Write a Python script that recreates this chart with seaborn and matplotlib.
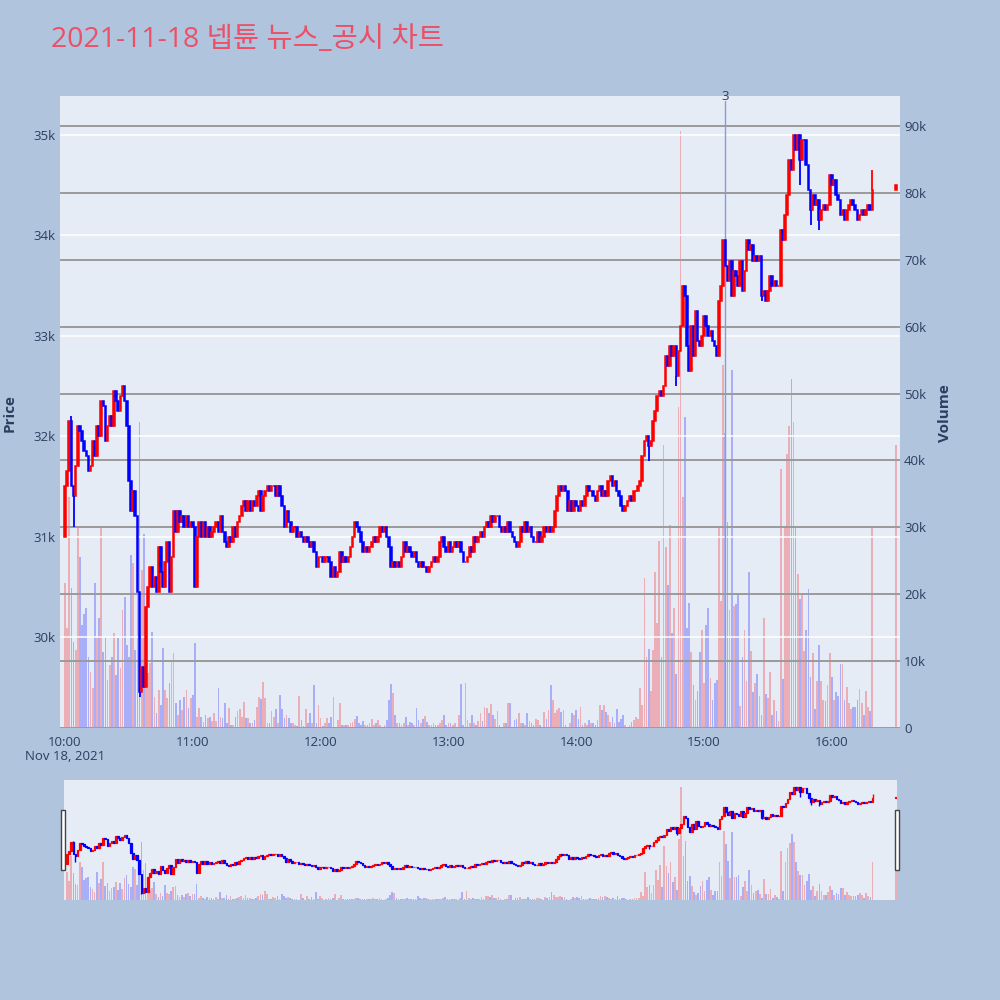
import numpy as np
import pandas as pd
import matplotlib
matplotlib.use("Agg")
import matplotlib.pyplot as plt
import matplotlib.transforms as mtransforms
from matplotlib.patches import Rectangle
import seaborn as sns

# ---------------------------------------------------------------------------
# Data: 1-minute candles, minutes after 10:00 (last point = 16:30 auction)
# ---------------------------------------------------------------------------
minutes = list(range(380)) + [390]
first_open = 31000

close = [
    31500, 31650, 32150, 31500, 31400, 31700, 32100, 32050, 31950, 31850,
    31800, 31650, 31700, 31950, 31800, 32100, 32000, 32350, 32300, 31950,
    32100, 32200, 32100, 32450, 32350, 32250, 32400, 32500, 32350, 32100,
    31550, 31250, 31450, 31200, 30450, 29450, 29700, 29500, 30300, 30500,
    30700, 30500, 30600, 30450, 30900, 30650, 30500, 30750, 30950, 30450,
    30800, 31250, 31050, 31250, 31150, 31200, 31100, 31200, 31100, 31150,
    31100, 30500, 31000, 31150, 31000, 31150, 31000, 31100, 31000, 31050,
    31100, 31150, 31050, 31200, 31050, 30950, 30900, 31000, 30950, 31100,
    31000, 31150, 31200, 31300, 31350, 31250, 31350, 31250, 31350, 31300,
    31400, 31450, 31250, 31400, 31450, 31500, 31450, 31500, 31500, 31400,
    31500, 31400, 31300, 31100, 31250, 31150, 31050, 31100, 31100, 31000,
    31050, 31000, 30950, 31000, 30950, 30900, 30950, 30850, 30700, 30800,
    30800, 30750, 30800, 30800, 30750, 30600, 30700, 30600, 30650, 30850,
    30750, 30800, 30750, 30800, 30900, 31000, 31150, 31100, 31050, 30950,
    30850, 30900, 30850, 30900, 30950, 31000, 30950, 31000, 31100, 31050,
    31100, 31000, 30900, 30700, 30750, 30700, 30750, 30700, 30800, 30950,
    30850, 30900, 30850, 30800, 30850, 30750, 30700, 30750, 30700, 30700,
    30650, 30700, 30750, 30800, 30750, 30800, 30950, 31000, 30900, 30850,
    30950, 30850, 30900, 30950, 30900, 30950, 30850, 30750, 30750, 30800,
    30900, 30850, 31000, 30950, 31000, 31050, 31000, 31100, 31150, 31100,
    31200, 31150, 31200, 31200, 31100, 31050, 31100, 31050, 31150, 31050,
    31000, 30950, 30900, 30950, 31100, 31050, 31150, 31050, 31100, 31000,
    30950, 30950, 31050, 30950, 31000, 31100, 31050, 31100, 31050, 31100,
    31250, 31400, 31500, 31450, 31500, 31450, 31250, 31350, 31250, 31350,
    31300, 31250, 31350, 31300, 31400, 31500, 31450, 31450, 31400, 31350,
    31450, 31500, 31400, 31450, 31400, 31550, 31600, 31500, 31550, 31450,
    31400, 31300, 31250, 31300, 31350, 31400, 31350, 31450, 31450, 31500,
    31550, 31800, 31950, 32000, 31900, 31950, 32150, 32250, 32400, 32450,
    32400, 32500, 32800, 32700, 32900, 32800, 32900, 32600, 32850, 33100,
    33500, 33400, 32900, 32650, 33100, 32800, 33250, 32950, 32900, 33000,
    33200, 33100, 33000, 33050, 32950, 32900, 32800, 33350, 33500, 33950,
    33700, 33550, 33750, 33400, 33650, 33600, 33500, 33750, 33450, 33650,
    33950, 33850, 33900, 33750, 33800, 33750, 33800, 33400, 33450, 33350,
    33450, 33600, 33500, 33550, 33500, 33500, 34050, 33950, 34200, 34400,
    34750, 34650, 35000, 34850, 35000, 34750, 34950, 34950, 34700, 34450,
    34250, 34400, 34300, 34350, 34150, 34250, 34300, 34250, 34300, 34600,
    34500, 34550, 34400, 34350, 34200, 34250, 34150, 34250, 34300, 34350,
    34300, 34250, 34150, 34200, 34250, 34200, 34250, 34300, 34250, 34450,
    34500,
]

# long shadows that stick out of the bodies
wick_low = {4: 31100, 35: 29400, 274: 31750, 287: 32500, 327: 33350,
            345: 34500, 350: 34100, 354: 34050}
wick_high = {3: 32200, 379: 34650}

# volume in thousands of shares
volume_k = [
    21.7, 15.0, 34.5, 21.0, 12.9, 11.7, 30.0, 25.6, 15.4, 17.0,
    18.0, 10.6, 8.4, 6.0, 21.7, 13.6, 16.4, 30.0, 11.4, 13.6,
    7.2, 9.4, 10.6, 14.2, 7.9, 13.5, 9.0, 17.6, 19.6, 12.4,
    10.6, 25.9, 24.7, 11.7, 20.2, 45.7, 23.6, 29.0, 9.7, 8.2,
    9.7, 14.4, 4.6, 2.2, 5.7, 3.5, 12.0, 5.7, 4.5, 6.7,
    9.9, 11.2, 3.7, 2.0, 4.2, 2.7, 4.6, 5.7, 3.0, 4.5,
    5.0, 12.7,
    1.6, 3.0, 1.6, 0.9, 2.0, 1.5, 1.7, 1.0, 2.2, 1.0,
    6.0, 1.7, 1.5, 3.7, 0.7, 3.0, 0.5, 0.5, 1.7, 2.5,
    2.9, 1.7, 3.9, 1.5, 1.5, 0.7, 0.8, 1.2, 3.2, 4.6,
    4.3, 6.9, 4.5, 0.7, 0.7, 2.5, 1.7, 2.9, 0.7, 5.0,
    2.9, 1.5, 2.0, 1.5, 0.7, 0.7, 0.5, 0.3, 4.8, 1.2,
    0.3, 2.9, 0.7, 2.2, 0.7, 6.5, 0.8, 3.4, 1.5, 0.3,
    0.8, 1.5, 0.7,
    1.7, 4.7, 0.2, 1.2, 3.8, 0.4, 0.4, 0.4, 0.4, 0.7,
    0.9, 1.4, 1.8, 0.7, 0.4, 1.0, 0.4, 0.4, 0.7, 1.4,
    0.4, 0.7, 1.2, 0.4, 0.2, 0.4, 1.2, 4.2, 6.6, 5.3,
    1.9, 0.7, 0.7, 0.4, 0.7, 1.7, 0.4, 0.9, 0.7, 0.4,
    3.0, 1.2, 0.7, 1.4, 1.8, 0.9, 0.4, 0.4, 0.7, 0.4,
    0.4, 0.7, 1.2, 2.0, 0.4, 0.7, 0.7, 0.4, 0.7, 0.2,
    1.9, 6.6, 0.4,
    6.7, 1.2, 0.7, 1.9, 0.7, 0.5, 1.0, 2.2, 1.0, 3.2,
    3.0, 2.2, 3.6, 1.9, 1.4, 2.6, 0.5, 0.2, 0.7, 0.7,
    3.7, 3.7, 0.2, 1.2, 1.4, 2.2, 0.7, 0.7, 0.5, 2.2,
    1.0, 0.7, 0.5, 1.4, 1.2, 0.5, 0.2, 2.4, 1.4, 2.7,
    6.4, 4.2, 2.2, 2.7, 3.0, 2.4, 2.7, 0.5, 0.2, 0.7,
    2.2, 1.9, 2.7, 1.4, 3.2, 0.5, 0.7, 0.5, 1.2, 0.7,
    0.7, 0.5, 1.2, 3.4, 2.7,
    3.4, 2.4, 1.9, 0.9, 1.7, 0.7, 2.9, 0.9, 1.4, 1.9,
    0.4, 0.2, 0.4, 0.9, 1.2, 1.7, 1.4, 6.0, 3.4, 22.4,
    10.6, 11.8, 5.5, 11.6, 23.4, 15.7, 27.9, 10.6, 42.3, 27.1,
    21.4, 30.3, 14.2, 17.9, 8.0, 48.0, 89.3, 34.5, 46.5, 15.0,
    18.7, 11.3, 6.5, 4.2, 5.5, 11.3, 14.6, 6.7, 15.4, 17.9,
    7.5, 4.2, 6.7, 7.2, 30.1, 19.0, 54.3, 44.1, 30.8, 17.7,
    53.5, 18.2,
    18.5, 19.9, 3.3, 10.6, 14.7, 7.1, 23.4, 11.5, 5.4, 6.8,
    8.0, 4.8, 1.9, 16.4, 5.1, 4.5, 8.3, 1.9, 4.2, 2.5,
    1.0, 38.8, 7.4, 30.1, 40.9, 45.2, 52.2, 45.8, 29.9, 23.1,
    19.3, 19.9, 11.5, 14.7, 20.8, 7.7, 11.2, 2.8, 7.1, 12.4,
    7.1, 4.2, 4.0, 6.5, 11.2, 7.7, 4.2, 5.4, 4.8, 9.5,
    9.5, 4.2, 6.2, 3.7, 2.8, 3.1, 3.1, 4.2, 5.9, 3.7,
    1.9, 5.6, 3.1, 2.5, 30.1,
    42.3,
]

news_minute = 310          # 15:10 disclosure marker
news_label = "3"

hour_ticks = [0, 60, 120, 180, 240, 300, 360]
hour_labels = ["10:00", "11:00", "12:00", "13:00", "14:00", "15:00", "16:00"]
price_ticks = [30000, 31000, 32000, 33000, 34000, 35000]
price_labels = ["30k", "31k", "32k", "33k", "34k", "35k"]
vol_ticks = [0, 10000, 20000, 30000, 40000, 50000, 60000, 70000, 80000, 90000]
vol_labels = ["0", "10k", "20k", "30k", "40k", "50k", "60k", "70k", "80k", "90k"]

title = "2021-11-18 넵튠 뉴스_공시 차트"

# ---------------------------------------------------------------------------
# Style
# ---------------------------------------------------------------------------
sns.set_style("white")
plt.rcParams["font.family"] = ["Open Sans", "Noto Sans CJK KR", "DejaVu Sans"]

BG = "#B0C4DE"
PLOT_BG = "#E5ECF6"
TXT = "#2a3f5f"
UP, DOWN = "#ff0000", "#0000ff"

df = pd.DataFrame({"t": minutes, "close": close})
df["open"] = [first_open] + close[:-1]
df["volume"] = np.array(volume_k) * 1000
df["color"] = np.where(df["close"] >= df["open"], UP, DOWN)
df["body_lo"] = df[["open", "close"]].min(axis=1)
df["body_h"] = (df["close"] - df["open"]).abs()

PRICE_LIM = (29093, 35389)
VOL_LIM = (0, 94500)


def draw_volume(ax, width, alpha):
    ax.bar(df["t"], df["volume"], width=width, color=df["color"],
           alpha=alpha, linewidth=0, zorder=1)
    ax.set_ylim(*VOL_LIM)


def draw_candles(ax, lw, wlw):
    ax.bar(df["t"], df["body_h"], bottom=df["body_lo"], width=0.75,
           color=df["color"], edgecolor=df["color"], linewidth=lw, zorder=3)
    for t, lo in wick_low.items():
        row = df.loc[df["t"] == t].iloc[0]
        ax.vlines(t, lo, row["body_lo"], color=row["color"], lw=wlw, zorder=3)
    for t, hi in wick_high.items():
        row = df.loc[df["t"] == t].iloc[0]
        ax.vlines(t, row["body_lo"] + row["body_h"], hi, color=row["color"],
                  lw=wlw, zorder=3)
    ax.set_ylim(*PRICE_LIM)


fig = plt.figure(figsize=(10, 10), dpi=100, facecolor=BG)

# --- main chart: volume layer (right axis) -------------------------------
ax_vol = fig.add_axes([0.060, 0.272, 0.840, 0.632], facecolor=PLOT_BG)
draw_volume(ax_vol, 0.8, 0.26)
ax_vol.set_xlim(-2.35, 392)
ax_vol.yaxis.tick_right()
ax_vol.set_yticks(vol_ticks)
ax_vol.set_yticklabels(vol_labels)
ax_vol.set_xticks([])
ax_vol.grid(axis="y", color="#9a9a9a", lw=1.4)
ax_vol.set_axisbelow(False)
ax_vol.axhline(0, color="white", lw=2, zorder=2)
ax_vol.tick_params(axis="y", length=0, pad=3, labelsize=9.5, labelcolor=TXT)
for s in ax_vol.spines.values():
    s.set_visible(False)

# --- main chart: price layer (left axis) ---------------------------------
ax = fig.add_axes([0.060, 0.272, 0.840, 0.632], facecolor="none")
ax.set_xlim(-2.35, 392)
draw_candles(ax, 1.1, 1.3)
ax.set_yticks(price_ticks)
ax.set_yticklabels(price_labels)
ax.set_xticks(hour_ticks)
ax.set_xticklabels(hour_labels)
ax.grid(axis="y", color="white", lw=1.1)
ax.grid(axis="x", visible=False)
ax.set_axisbelow(True)
ax.tick_params(axis="both", length=0, labelsize=9.5, labelcolor=TXT)
ax.tick_params(axis="y", pad=3)
ax.tick_params(axis="x", pad=6)
for s in ax.spines.values():
    s.set_visible(False)

# disclosure marker
ax.axvline(news_minute, ymin=0, ymax=0.992, color="#8a9bd6", lw=1, zorder=2)
trans = mtransforms.blended_transform_factory(ax.transData, ax.transAxes)
ax.text(news_minute, 1.0, news_label, transform=trans, ha="center",
        va="center", fontsize=9.5, color=TXT)

# --- range slider ---------------------------------------------------------
ax_rs = fig.add_axes([0.064, 0.100, 0.833, 0.120], facecolor=PLOT_BG)
draw_volume(ax_rs, 0.8, 0.26)
ax_rs.set_xlim(-1.4, 390.5)
ax_rs.set_xticks([])
ax_rs.set_yticks([])
ax_rs2 = fig.add_axes([0.064, 0.100, 0.833, 0.120], facecolor="none")
draw_candles(ax_rs2, 0.9, 1.0)
ax_rs2.set_xlim(-1.4, 390.5)
ax_rs2.set_xticks([])
ax_rs2.set_yticks([])
for a in (ax_rs, ax_rs2):
    for s in a.spines.values():
        s.set_visible(False)

for hx in (0.0612, 0.8948):
    fig.add_artist(Rectangle((hx, 0.130), 0.0040, 0.060,
                             transform=fig.transFigure, facecolor="white",
                             edgecolor="#444444", lw=1, zorder=10))

# --- texts ----------------------------------------------------------------
fig.text(0.051, 0.960, title, fontsize=20.5, color="#ec4f66",
         ha="left", va="center")
fig.text(0.065, 0.243, "Nov 18, 2021", fontsize=9.5, color=TXT,
         ha="center", va="center")
fig.text(0.010, 0.587, "Price", rotation=90, fontsize=11, fontweight="bold",
         color=TXT, ha="center", va="center")
fig.text(0.945, 0.587, "Volume", rotation=90, fontsize=11, fontweight="bold",
         color=TXT, ha="center", va="center")

fig.savefig("out.png", dpi=100, facecolor=BG)
